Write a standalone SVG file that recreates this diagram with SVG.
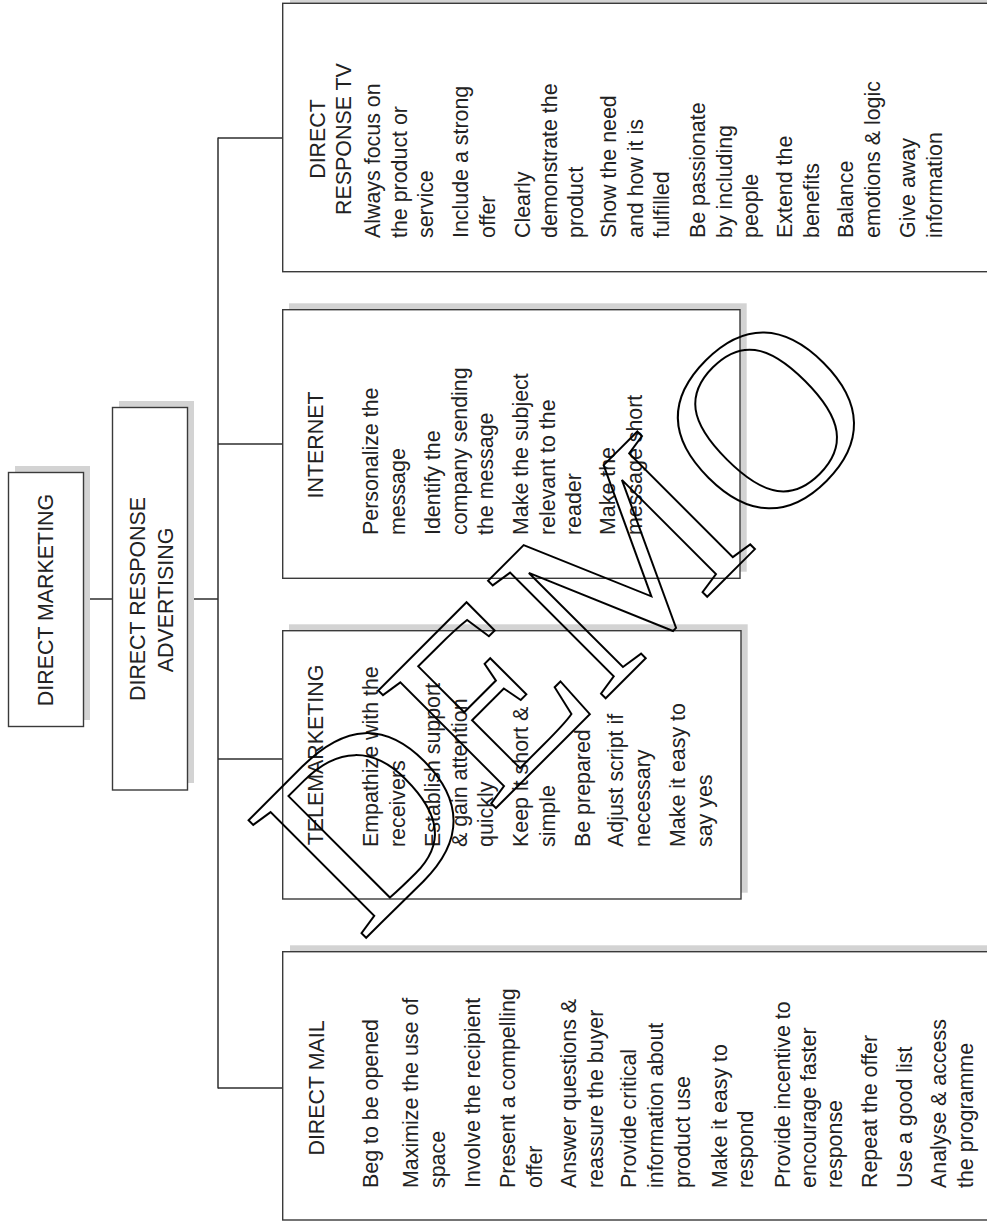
<svg xmlns="http://www.w3.org/2000/svg" width="987" height="1224" viewBox="0 0 987 1224">
<style>
.bg{fill:#ffffff}
.sh{fill:#d3d3d3;stroke:none}
.bx{fill:#ffffff;stroke:#3a3a3a;stroke-width:1.4}
.cn{fill:none;stroke:#2e2e2e;stroke-width:1.5}
.t{font-family:"Liberation Sans",Arial,Helvetica,sans-serif;font-size:21.4px;fill:#222222}
.m{text-anchor:middle}
.wm{font-family:"Liberation Serif","Times New Roman",serif;font-size:254px;fill:none;stroke:#000000;stroke-width:2}
</style>
<rect class="bg" x="0" y="0" width="987" height="1224"/>

<g id="connectors">
<line class="cn" x1="83" y1="599" x2="113" y2="599"/>
<line class="cn" x1="187" y1="599" x2="218" y2="599"/>
<line class="cn" x1="218" y1="137.5" x2="218" y2="1088.5"/>
<line class="cn" x1="218" y1="138" x2="283" y2="138"/>
<line class="cn" x1="218" y1="444" x2="283" y2="444"/>
<line class="cn" x1="218" y1="759" x2="283" y2="759"/>
<line class="cn" x1="218" y1="1088" x2="283" y2="1088"/>
</g>

<g id="node-direct-marketing">
<rect class="sh" x="15" y="466" width="75" height="254"/>
<rect class="bx" x="8.5" y="472.5" width="75" height="254"/>
<g transform="rotate(-90)"><text class="t m" x="-600" y="53">DIRECT MARKETING</text></g>
</g>

<g id="node-direct-response-advertising">
<rect class="sh" x="119" y="401" width="75" height="382"/>
<rect class="bx" x="112.5" y="407.5" width="75" height="382.5"/>
<g transform="rotate(-90)">
<text class="t m" x="-599" y="145">DIRECT RESPONSE</text>
<text class="t m" x="-600" y="173">ADVERTISING</text>
</g>
</g>

<g id="node-direct-response-tv">
<rect class="sh" x="290" y="-3" width="710" height="268"/>
<rect class="bx" x="282.7" y="3.3" width="710" height="268.4"/>
<g transform="rotate(-90)">
<text class="t m" x="-139" y="325">DIRECT</text>
<text class="t m" x="-139" y="351">RESPONSE TV</text>
<text class="t" x="-238" y="380">Always focus on</text>
<text class="t" x="-238" y="406.5">the product or</text>
<text class="t" x="-238" y="433">service</text>
<text class="t" x="-238" y="468">Include a strong</text>
<text class="t" x="-238" y="494.5">offer</text>
<text class="t" x="-238" y="530">Clearly</text>
<text class="t" x="-238" y="556.5">demonstrate the</text>
<text class="t" x="-238" y="583">product</text>
<text class="t" x="-238" y="616">Show the need</text>
<text class="t" x="-238" y="642.5">and how it is</text>
<text class="t" x="-238" y="669">fulfilled</text>
<text class="t" x="-238" y="705">Be passionate</text>
<text class="t" x="-238" y="731.5">by including</text>
<text class="t" x="-238" y="758">people</text>
<text class="t" x="-238" y="792">Extend the</text>
<text class="t" x="-238" y="818.5">benefits</text>
<text class="t" x="-238" y="853">Balance</text>
<text class="t" x="-238" y="879.5">emotions &amp; logic</text>
<text class="t" x="-238" y="915">Give away</text>
<text class="t" x="-238" y="941.5">information</text>
</g>
</g>

<g id="node-internet">
<rect class="sh" x="289" y="303.3" width="457.7" height="268.4"/>
<rect class="bx" x="282.7" y="309.7" width="457.3" height="268.6"/>
<g transform="rotate(-90)">
<text class="t m" x="-445" y="323">INTERNET</text>
<text class="t" x="-535" y="378">Personalize the</text>
<text class="t" x="-535" y="404.5">message</text>
<text class="t" x="-535" y="440">Identify the</text>
<text class="t" x="-535" y="466.5">company sending</text>
<text class="t" x="-535" y="493">the message</text>
<text class="t" x="-535" y="528">Make the subject</text>
<text class="t" x="-535" y="554.5">relevant to the</text>
<text class="t" x="-535" y="581">reader</text>
<text class="t" x="-535" y="615">Make the</text>
<text class="t" x="-535" y="641.5">message short</text>
</g>
</g>

<g id="node-telemarketing">
<rect class="sh" x="289" y="624.3" width="458.7" height="268.4"/>
<rect class="bx" x="282.7" y="630.7" width="458.3" height="268.3"/>
<g transform="rotate(-90)">
<text class="t m" x="-755" y="323">TELEMARKETING</text>
<text class="t" x="-847" y="378">Empathize with the</text>
<text class="t" x="-847" y="404.5">receivers</text>
<text class="t" x="-847" y="440">Establish support</text>
<text class="t" x="-847" y="466.5">&amp; gain attention</text>
<text class="t" x="-847" y="493">quickly</text>
<text class="t" x="-847" y="528">Keep it short &amp;</text>
<text class="t" x="-847" y="554.5">simple</text>
<text class="t" x="-847" y="590">Be prepared</text>
<text class="t" x="-847" y="623">Adjust script if</text>
<text class="t" x="-847" y="649.5">necessary</text>
<text class="t" x="-847" y="685">Make it easy to</text>
<text class="t" x="-847" y="711.5">say yes</text>
</g>
</g>

<g id="node-direct-mail">
<rect class="sh" x="290" y="945.3" width="710" height="268.4"/>
<rect class="bx" x="282.7" y="951.7" width="710" height="268.3"/>
<g transform="rotate(-90)">
<text class="t m" x="-1088" y="324">DIRECT MAIL</text>
<text class="t" x="-1188" y="378">Beg to be opened</text>
<text class="t" x="-1188" y="418">Maximize the use of</text>
<text class="t" x="-1188" y="445">space</text>
<text class="t" x="-1188" y="480">Involve the recipient</text>
<text class="t" x="-1188" y="515">Present a compelling</text>
<text class="t" x="-1188" y="541.5">offer</text>
<text class="t" x="-1188" y="576">Answer questions &amp;</text>
<text class="t" x="-1188" y="602.5">reassure the buyer</text>
<text class="t" x="-1188" y="636">Provide critical</text>
<text class="t" x="-1188" y="662.5">information about</text>
<text class="t" x="-1188" y="690">product use</text>
<text class="t" x="-1188" y="727">Make it easy to</text>
<text class="t" x="-1188" y="753">respond</text>
<text class="t" x="-1188" y="790">Provide incentive to</text>
<text class="t" x="-1188" y="816">encourage faster</text>
<text class="t" x="-1188" y="842">response</text>
<text class="t" x="-1188" y="877">Repeat the offer</text>
<text class="t" x="-1188" y="912">Use a good list</text>
<text class="t" x="-1188" y="946">Analyse &amp; access</text>
<text class="t" x="-1188" y="972.5">the programme</text>
</g>
</g>

<g id="watermark">
<text class="wm" transform="translate(361,943) rotate(-45)">DEMO</text>
</g>
</svg>
